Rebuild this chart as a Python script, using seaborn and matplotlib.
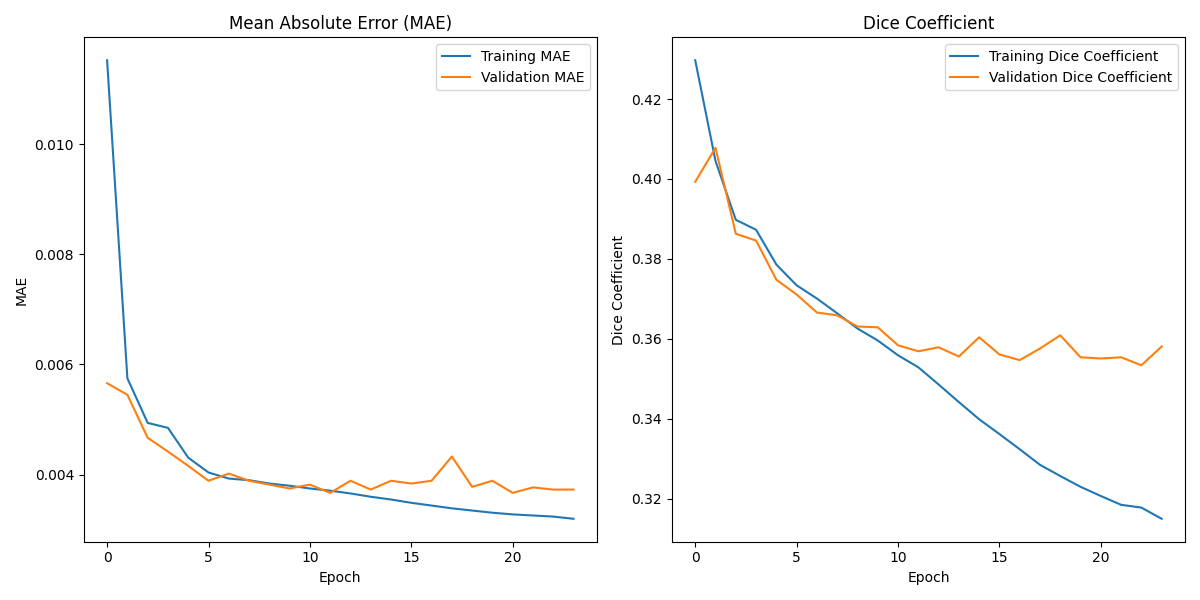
import numpy as np
import pandas as pd
import seaborn as sns
import matplotlib
matplotlib.use("Agg")
import matplotlib.pyplot as plt

# Значения
epochs = np.arange(24)
train_mae = [0.01152, 0.00575, 0.00494, 0.00485, 0.00431, 0.00404, 0.00393, 0.0039,
             0.00384, 0.0038, 0.00375, 0.00371, 0.00366, 0.0036, 0.00355, 0.00349,
             0.00344, 0.00339, 0.00335, 0.00331, 0.00328, 0.00326, 0.00324, 0.0032]
val_mae = [0.00566, 0.00545, 0.00467, 0.00442, 0.00416, 0.00389, 0.00402, 0.00389,
           0.00382, 0.00375, 0.00382, 0.00367, 0.00389, 0.00373, 0.00389, 0.00384,
           0.00389, 0.00433, 0.00378, 0.00389, 0.00367, 0.00377, 0.00373, 0.00373]
train_dice = [0.4297, 0.4045, 0.3898, 0.3873, 0.3786, 0.3734, 0.3701, 0.3664,
              0.3626, 0.3596, 0.3559, 0.3529, 0.3486, 0.3442, 0.3399, 0.3362,
              0.3324, 0.3285, 0.3257, 0.323, 0.3207, 0.3185, 0.3178, 0.315]
val_dice = [0.3993, 0.4078, 0.3863, 0.3846, 0.3748, 0.3711, 0.3666, 0.3659,
            0.3631, 0.3629, 0.3584, 0.3569, 0.3579, 0.3556, 0.3604, 0.3561,
            0.3547, 0.3576, 0.3609, 0.3554, 0.3551, 0.3554, 0.3534, 0.3581]

fig, axes = plt.subplots(1, 2, figsize=(12, 6), dpi=100)

ax = axes[0]
sns.lineplot(x=epochs, y=train_mae, ax=ax, label='Training MAE', color='#1f77b4')
sns.lineplot(x=epochs, y=val_mae, ax=ax, label='Validation MAE', color='#ff7f0e')
ax.set_title('Mean Absolute Error (MAE)')
ax.set_xlabel('Epoch')
ax.set_ylabel('MAE')
ax.legend(loc='upper right')

ax = axes[1]
sns.lineplot(x=epochs, y=train_dice, ax=ax, label='Training Dice Coefficient', color='#1f77b4')
sns.lineplot(x=epochs, y=val_dice, ax=ax, label='Validation Dice Coefficient', color='#ff7f0e')
ax.set_title('Dice Coefficient')
ax.set_xlabel('Epoch')
ax.set_ylabel('Dice Coefficient')
ax.legend(loc='upper right')

plt.tight_layout()
plt.savefig('out.png')
